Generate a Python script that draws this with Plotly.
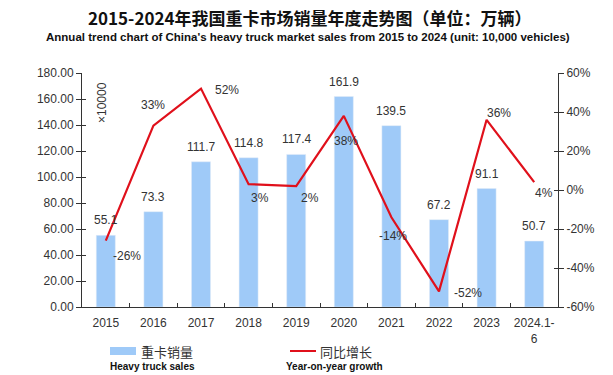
import plotly.graph_objects as go

categories = ["2015", "2016", "2017", "2018", "2019", "2020", "2021", "2022", "2023", "2024.1-<br>6"]
sales = [55.1, 73.3, 111.7, 114.8, 117.4, 161.9, 139.5, 67.2, 91.1, 50.7]
growth = [-26, 33, 52, 3, 2, 38, -14, -52, 36, 4]
left_ticks = [0, 20, 40, 60, 80, 100, 120, 140, 160, 180]
right_ticks = [-60, -40, -20, 0, 20, 40, 60]
right_labels = [f"{v}%" for v in right_ticks]

# pixel offsets of growth labels relative to their points
pct_off = [(21, -15), (0, 21), (26, -1), (11, -14), (14, -12), (2, -25), (2, -19), (29, -2), (12, 7), (10, -11)]

BAR = "#9FCAF8"
RED = "#E0101B"
TXT = "#333333"
AX_FONT = dict(family="Liberation Sans, Arial, sans-serif", size=12, color=TXT)

fig = go.Figure()
fig.add_trace(go.Bar(x=categories, y=sales, marker_color=BAR, width=0.4, yaxis="y", showlegend=False,
                     hoverinfo="skip"))
fig.add_trace(go.Scatter(x=categories, y=growth, mode="lines", line=dict(color=RED, width=2.2),
                         yaxis="y2", showlegend=False, hoverinfo="skip"))
# invisible traces so the inner-tick axes are drawn
fig.add_trace(go.Scatter(x=categories, y=sales, mode="none", yaxis="y3", showlegend=False, hoverinfo="skip"))
fig.add_trace(go.Scatter(x=categories, y=growth, mode="none", yaxis="y4", showlegend=False, hoverinfo="skip"))

ann = []
for i, v in enumerate(sales):
    ann.append(dict(x=i, y=v, xref="x", yref="y", text=f"{v:.1f}", showarrow=False,
                    yshift=15, font=AX_FONT))
for i, (g, (dx, dy)) in enumerate(zip(growth, pct_off)):
    ann.append(dict(x=i, y=g, xref="x", yref="y2", text=f"{g}%", showarrow=False,
                    xshift=dx, yshift=dy, font=AX_FONT))

W, H = 613, 375
l, r, t, b = 82, 55, 73, 68
pw, ph = W - l - r, H - t - b

def px(x):
    return (x - l) / pw

def py(y):
    return (H - b - y) / ph

# unit note
ann.append(dict(x=px(103), y=py(100), xref="paper", yref="paper", xanchor="center", yanchor="middle",
                text="×10000", textangle=-90, showarrow=False, xshift=-1, yshift=-3, font=AX_FONT))
# titles
ann.append(dict(x=px(310), y=py(18), xref="paper", yref="paper", xanchor="center", yanchor="middle",
                text="<b>2015-2024年我国重卡市场销量年度走势图（单位：万辆）</b>", showarrow=False,
                font=dict(family="Noto Sans CJK SC", size=17, color="#111111")))
ann.append(dict(x=px(308), y=py(37), xref="paper", yref="paper", xanchor="center", yanchor="middle",
                text="<b>Annual trend chart of China's heavy truck market sales from 2015 to 2024 (unit: 10,000 vehicles)</b>",
                showarrow=False, font=dict(family="Liberation Sans Narrow, Arial Narrow, sans-serif", size=11.5, color="#111111")))

# legend (manual)
LEG_CN = dict(family="Noto Sans CJK SC", size=13, color=TXT)
LEG_EN = dict(family="Liberation Sans Narrow, sans-serif", size=10, color="#111111")
shapes = [
    dict(type="rect", xref="paper", yref="paper", x0=px(110), x1=px(136), y0=py(355), y1=py(347),
         fillcolor=BAR, line=dict(width=0)),
    dict(type="line", xref="paper", yref="paper", x0=px(290), x1=px(316), y0=py(351), y1=py(351),
         line=dict(color=RED, width=2)),
]
ann.append(dict(x=px(139), y=py(351), xref="paper", yref="paper", xanchor="left", yanchor="middle",
                text="重卡销量", showarrow=False, font=LEG_CN))
ann.append(dict(x=px(108), y=py(366), xref="paper", yref="paper", xanchor="left", yanchor="middle",
                text="<b>Heavy truck sales</b>", showarrow=False, font=LEG_EN))
ann.append(dict(x=px(318), y=py(351), xref="paper", yref="paper", xanchor="left", yanchor="middle",
                text="同比增长", showarrow=False, font=LEG_CN))
ann.append(dict(x=px(284), y=py(366), xref="paper", yref="paper", xanchor="left", yanchor="middle",
                text="<b>Year-on-year growth</b>", showarrow=False, font=LEG_EN))

fig.update_layout(
    width=W, height=H,
    margin=dict(l=l, r=r, t=t, b=b, autoexpand=False),
    paper_bgcolor="white", plot_bgcolor="white",
    bargap=0.6,
    xaxis=dict(type="category", range=[-0.5, 9.5], autorange=False, showline=True, linecolor="#333",
               linewidth=1, ticks="inside", tickson="boundaries", ticklen=4, tickcolor="#333",
               tickfont=AX_FONT, showgrid=False, tickangle=0, automargin=False, ticklabelstandoff=5),
    yaxis=dict(range=[0, 180], tickvals=left_ticks, tickformat=".2f", showline=True, linecolor="#333",
               ticks="outside", ticklen=5, tickcolor="#333", tickfont=AX_FONT, showgrid=False,
               zeroline=False, automargin=False),
    yaxis2=dict(range=[-60, 60], tickvals=right_ticks, ticktext=right_labels, overlaying="y", side="right",
                showline=True, linecolor="#333", ticks="outside", ticklen=5, tickcolor="#333",
                tickfont=AX_FONT, showgrid=False, zeroline=False, automargin=False),
    yaxis3=dict(range=[0, 180], tickvals=left_ticks, overlaying="y", side="left", showline=False,
                ticks="inside", ticklen=4, tickcolor="#333", showticklabels=False, showgrid=False,
                zeroline=False, automargin=False),
    yaxis4=dict(range=[-60, 60], tickvals=right_ticks, overlaying="y", side="right", showline=False,
                ticks="inside", ticklen=4, tickcolor="#333", showticklabels=False, showgrid=False,
                zeroline=False, automargin=False),
    annotations=ann, shapes=shapes,
)
fig.write_html("out.html", config={"displayModeBar": False},
               post_script="document.body.style.margin='0';document.body.style.overflow='hidden';")
